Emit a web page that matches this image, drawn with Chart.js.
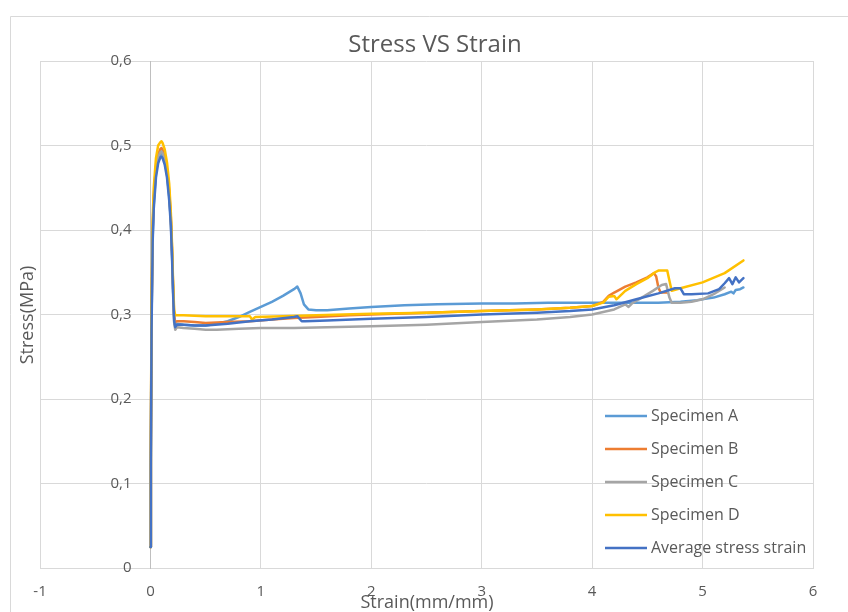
<!DOCTYPE html>
<html>
<head>
<meta charset="utf-8">
<script src="https://cdn.jsdelivr.net/npm/chart.js@4.4.1/dist/chart.umd.min.js"></script>
<style>
  html, body { margin: 0; padding: 0; background: #ffffff; }
  #wrap { position: relative; width: 848px; height: 612px; overflow: hidden; }
  canvas { display: block; }
</style>
</head>
<body>
<div id="wrap"><canvas id="c" width="848" height="612"></canvas></div>
<script>
// ---- data ----
const chartTitle = "Stress VS Strain";
const xAxisTitle = "Strain(mm/mm)";
const yAxisTitle = "Stress(MPa)";
const seriesNames = ["Specimen A", "Specimen B", "Specimen C", "Specimen D", "Average stress strain"];
const seriesColors = ["#5B9BD5", "#ED7D31", "#A5A5A5", "#FFC000", "#4472C4"];
const xTickRange = [-1, 6];
const yTickRange = [0, 0.6];

const aStrain = [0, 0.004, 0.01, 0.02, 0.03, 0.05, 0.07, 0.09, 0.10, 0.11, 0.13, 0.15, 0.17, 0.185, 0.195, 0.205, 0.215, 0.225, 0.24, 0.3, 0.4, 0.5, 0.6, 0.7, 0.8, 0.9, 1.0, 1.1, 1.2, 1.3, 1.33, 1.36, 1.39, 1.43, 1.5, 1.6, 1.8, 2.0, 2.3, 2.6, 3.0, 3.3, 3.6, 4.0, 4.3, 4.6, 4.8, 4.95, 5.1, 5.2, 5.26, 5.28, 5.3, 5.34, 5.37];
const aStress = [0.025, 0.13, 0.29, 0.39, 0.43, 0.468, 0.484, 0.49, 0.491, 0.489, 0.481, 0.466, 0.44, 0.41, 0.375, 0.33, 0.295, 0.287, 0.289, 0.288, 0.287, 0.287, 0.289, 0.292, 0.297, 0.303, 0.309, 0.315, 0.322, 0.33, 0.333, 0.325, 0.312, 0.306, 0.305, 0.305, 0.307, 0.309, 0.311, 0.312, 0.313, 0.313, 0.314, 0.314, 0.314, 0.314, 0.315, 0.317, 0.32, 0.324, 0.327, 0.325, 0.329, 0.33, 0.332];

const bStrain = [0, 0.004, 0.01, 0.02, 0.03, 0.05, 0.07, 0.09, 0.10, 0.11, 0.13, 0.15, 0.17, 0.185, 0.195, 0.205, 0.215, 0.225, 0.24, 0.3, 0.4, 0.5, 0.7, 0.9, 1.1, 1.3, 1.5, 1.8, 2.0, 2.5, 3.0, 3.5, 3.8, 4.0, 4.1, 4.15, 4.2, 4.3, 4.4, 4.5, 4.56, 4.58, 4.60, 4.62, 4.68];
const bStress = [0.025, 0.14, 0.30, 0.40, 0.44, 0.475, 0.49, 0.496, 0.497, 0.495, 0.487, 0.472, 0.447, 0.415, 0.38, 0.335, 0.298, 0.291, 0.292, 0.292, 0.291, 0.29, 0.291, 0.292, 0.294, 0.296, 0.297, 0.299, 0.3, 0.302, 0.304, 0.306, 0.308, 0.31, 0.315, 0.322, 0.326, 0.333, 0.338, 0.344, 0.349, 0.345, 0.332, 0.326, 0.326];

const cStrain = [0, 0.004, 0.01, 0.02, 0.03, 0.05, 0.07, 0.09, 0.10, 0.11, 0.13, 0.15, 0.17, 0.185, 0.195, 0.205, 0.215, 0.225, 0.24, 0.3, 0.4, 0.5, 0.6, 0.8, 1.0, 1.3, 1.6, 2.0, 2.5, 3.0, 3.5, 3.8, 4.0, 4.1, 4.2, 4.3, 4.33, 4.36, 4.45, 4.55, 4.63, 4.67, 4.70, 4.72, 4.8, 4.9, 5.0, 5.1, 5.2];
const cStress = [0.025, 0.13, 0.29, 0.395, 0.435, 0.47, 0.486, 0.492, 0.493, 0.491, 0.483, 0.468, 0.443, 0.41, 0.375, 0.33, 0.29, 0.282, 0.285, 0.284, 0.283, 0.282, 0.282, 0.283, 0.284, 0.284, 0.285, 0.286, 0.288, 0.291, 0.294, 0.297, 0.3, 0.303, 0.306, 0.312, 0.309, 0.313, 0.32, 0.328, 0.335, 0.336, 0.32, 0.314, 0.314, 0.315, 0.318, 0.324, 0.332];

const dStrain = [0, 0.004, 0.01, 0.02, 0.03, 0.05, 0.07, 0.09, 0.10, 0.11, 0.13, 0.15, 0.17, 0.185, 0.195, 0.205, 0.215, 0.225, 0.24, 0.3, 0.5, 0.7, 0.9, 0.92, 0.95, 1.2, 1.5, 2.0, 2.5, 3.0, 3.5, 3.8, 4.0, 4.1, 4.15, 4.2, 4.22, 4.3, 4.4, 4.5, 4.57, 4.6, 4.68, 4.70, 4.72, 4.8, 5.0, 5.2, 5.37];
const dStress = [0.025, 0.15, 0.31, 0.41, 0.45, 0.485, 0.5, 0.504, 0.505, 0.503, 0.495, 0.48, 0.455, 0.42, 0.385, 0.34, 0.305, 0.299, 0.299, 0.299, 0.298, 0.298, 0.298, 0.294, 0.297, 0.298, 0.299, 0.301, 0.302, 0.304, 0.306, 0.308, 0.31, 0.314, 0.321, 0.322, 0.318, 0.328, 0.336, 0.343, 0.35, 0.352, 0.352, 0.34, 0.328, 0.331, 0.338, 0.349, 0.364];

const eStrain = [0, 0.004, 0.01, 0.02, 0.03, 0.05, 0.07, 0.09, 0.10, 0.11, 0.13, 0.15, 0.17, 0.185, 0.195, 0.205, 0.215, 0.225, 0.24, 0.3, 0.4, 0.5, 0.7, 0.9, 1.1, 1.3, 1.33, 1.37, 1.4, 1.6, 2.0, 2.5, 3.0, 3.5, 3.8, 4.0, 4.2, 4.4, 4.6, 4.75, 4.80, 4.83, 4.9, 5.05, 5.15, 5.2, 5.24, 5.27, 5.3, 5.33, 5.37];
const eStress = [0.025, 0.12, 0.28, 0.385, 0.425, 0.462, 0.479, 0.486, 0.487, 0.485, 0.477, 0.462, 0.435, 0.405, 0.37, 0.325, 0.292, 0.285, 0.288, 0.288, 0.287, 0.287, 0.289, 0.292, 0.294, 0.297, 0.298, 0.292, 0.292, 0.293, 0.295, 0.297, 0.3, 0.302, 0.304, 0.306, 0.311, 0.318, 0.325, 0.331, 0.331, 0.324, 0.324, 0.325, 0.33, 0.337, 0.343, 0.336, 0.344, 0.338, 0.343];

const strainSeries = [aStrain, bStrain, cStrain, dStrain, eStrain];
const stressSeries = [aStress, bStress, cStress, dStress, eStress];

// ---- build chart ----
const FONT = "'Open Sans', 'Noto Sans', sans-serif";
const TEXT = "#595959";
const GRID = "#d9d9d9";

function toPoints(xs, ys) { return xs.map((x, i) => ({ x: x, y: ys[i] })); }

const datasets = seriesNames.map((name, i) => ({
  label: name,
  data: toPoints(strainSeries[i], stressSeries[i]),
  borderColor: seriesColors[i],
  backgroundColor: seriesColors[i],
  borderWidth: 2.5,
  pointRadius: 0,
  showLine: true,
  tension: 0,
  borderJoinStyle: 'round',
  borderCapStyle: 'round',
  order: seriesNames.length - 1 - i
}));

const decorations = {
  id: 'decorations',
  beforeDraw(chart) {
    const ctx = chart.ctx;
    ctx.save();
    ctx.strokeStyle = GRID;
    ctx.lineWidth = 1;
    ctx.beginPath();
    ctx.moveTo(10.5, 612);
    ctx.lineTo(10.5, 16.5);
    ctx.lineTo(848, 16.5);
    ctx.stroke();
    ctx.restore();
  },
  afterDraw(chart) {
    const ctx = chart.ctx;
    ctx.save();
    ctx.fillStyle = TEXT;
    ctx.textAlign = 'center';
    ctx.textBaseline = 'middle';
    // title
    ctx.font = "24px " + FONT;
    ctx.fillText(chartTitle, 435, 45);
    // x axis title
    ctx.font = "18px " + FONT;
    ctx.fillText(xAxisTitle, 427, 603);
    // y axis title
    ctx.save();
    ctx.translate(28, 315);
    ctx.rotate(-Math.PI / 2);
    ctx.fillText(yAxisTitle, 0, 0);
    ctx.restore();
    // legend
    const lx = 605, ly0 = 416, step = 33;
    ctx.textAlign = 'left';
    ctx.font = "16px " + FONT;
    seriesNames.forEach((name, i) => {
      const y = ly0 + i * step;
      ctx.strokeStyle = seriesColors[i];
      ctx.lineWidth = 2.5;
      ctx.beginPath();
      ctx.moveTo(lx, y);
      ctx.lineTo(lx + 42, y);
      ctx.stroke();
      ctx.fillStyle = TEXT;
      ctx.fillText(name, lx + 46, y);
    });
    ctx.restore();
  }
};

new Chart(document.getElementById('c'), {
  type: 'scatter',
  data: { datasets: datasets },
  options: {
    responsive: false,
    animation: false,
    events: [],
    layout: { padding: { left: 40, right: 35, top: 61, bottom: 44 } },
    plugins: {
      legend: { display: false },
      title: { display: false },
      tooltip: { enabled: false }
    },
    scales: {
      x: {
        type: 'linear',
        position: { y: 0 },
        min: xTickRange[0],
        max: xTickRange[1],
        ticks: { stepSize: 1, color: TEXT, font: { family: FONT, size: 15 }, padding: 15 },
        grid: { color: GRID, drawTicks: false, lineWidth: 1 },
        border: { color: GRID }
      },
      y: {
        type: 'linear',
        position: { x: 0 },
        min: yTickRange[0],
        max: yTickRange[1],
        ticks: {
          stepSize: 0.1,
          color: TEXT,
          font: { family: FONT, size: 15 },
          callback: (v) => (v === 0 ? '0' : v.toFixed(1).replace('.', ',')) + '\u2002\u2002 '
        },
        grid: { color: GRID, drawTicks: false, lineWidth: 1 },
        border: { color: '#bfbfbf' }
      }
    }
  },
  plugins: [decorations]
});
</script>
</body>
</html>
